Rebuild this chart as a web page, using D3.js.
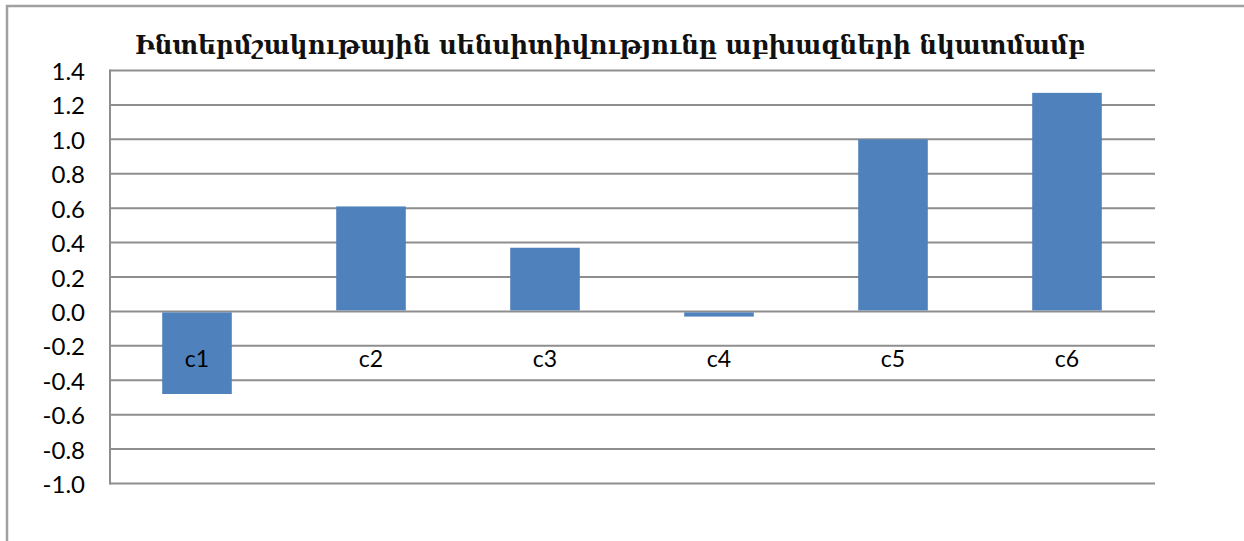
<!DOCTYPE html>
<html>
<head>
<meta charset="utf-8">
<script src="https://cdn.jsdelivr.net/npm/d3@7"></script>
<style>
  body { margin: 0; background: #fff; }
  text { font-family: Lato, "Open Sans", sans-serif; }
</style>
</head>
<body>
<div id="grafico"></div>
<script>
// datos del grafico
const categorias = ["c1", "c2", "c3", "c4", "c5", "c6"];
const valores = [-0.48, 0.61, 0.37, -0.03, 1.0, 1.27];
const ticksY = [-1.0, -0.8, -0.6, -0.4, -0.2, 0.0, 0.2, 0.4, 0.6, 0.8, 1.0, 1.2, 1.4];
const titulo = "Ինտերմշակութային սենսիտիվությունը աբխազների նկատմամբ";

const ancho = 1244, alto = 541;
const izq = 110, der = 1154, arriba = 70.5, abajo = 483.5;
const gris = "#8e8e8e", azul = "#4f81bd";

const $svg = d3.select("#grafico")
  .append("svg")
  .attr("width", ancho)
  .attr("height", alto);

// marco del grafico
$svg.append("path")
  .attr("d", `M7,${alto} L7,6 L${ancho},6`)
  .attr("fill", "none")
  .attr("stroke", "#a0a0a0")
  .attr("stroke-width", 2.5);

const x = d3.scaleBand()
  .domain(categorias)
  .range([izq, der])
  .paddingInner(0.6)
  .paddingOuter(0.3);

const y = d3.scaleLinear()
  .domain([-1.0, 1.4])
  .range([abajo, arriba]);

// lineas de la cuadricula
$svg.append("g")
  .selectAll("line")
  .data(ticksY)
  .join("line")
  .attr("x1", izq)
  .attr("x2", der + 1)
  .attr("y1", d => y(d))
  .attr("y2", d => y(d))
  .attr("stroke", gris)
  .attr("stroke-width", 2);

// eje vertical
$svg.append("line")
  .attr("x1", izq)
  .attr("x2", izq)
  .attr("y1", y(1.4) - 1)
  .attr("y2", y(-1.0) + 1)
  .attr("stroke", gris)
  .attr("stroke-width", 2);

// etiquetas del eje Y
$svg.append("g")
  .selectAll("text")
  .data(ticksY)
  .join("text")
  .attr("x", 85)
  .attr("y", d => y(d))
  .attr("text-anchor", "end")
  .attr("dominant-baseline", "central")
  .attr("font-size", 24)
  .attr("fill", "#000")
  .text(d => d.toFixed(1));

// barras
$svg.append("g")
  .selectAll("rect")
  .data(valores)
  .join("rect")
  .attr("x", (d, i) => x(categorias[i]))
  .attr("width", x.bandwidth())
  .attr("y", d => d >= 0 ? y(d) : y(0) + 1)
  .attr("height", d => d >= 0 ? y(0) - 1 - y(d) : y(d) - y(0) - 1)
  .attr("fill", azul);

// etiquetas de categorias
$svg.append("g")
  .selectAll("text")
  .data(categorias)
  .join("text")
  .attr("x", d => x(d) + x.bandwidth() / 2)
  .attr("y", y(-0.27))
  .attr("text-anchor", "middle")
  .attr("dominant-baseline", "central")
  .attr("font-size", 23)
  .attr("fill", "#000")
  .text(d => d);

// titulo
$svg.append("text")
  .attr("x", 610)
  .attr("y", 45)
  .attr("text-anchor", "middle")
  .attr("dominant-baseline", "central")
  .attr("font-weight", "bold")
  .attr("font-size", 26)
  .attr("textLength", 950)
  .attr("lengthAdjust", "spacingAndGlyphs")
  .attr("fill", "#111")
  .style("font-family", "'DejaVu Serif Condensed', 'DejaVu Serif', serif")
  .text(titulo);
</script>
</body>
</html>
